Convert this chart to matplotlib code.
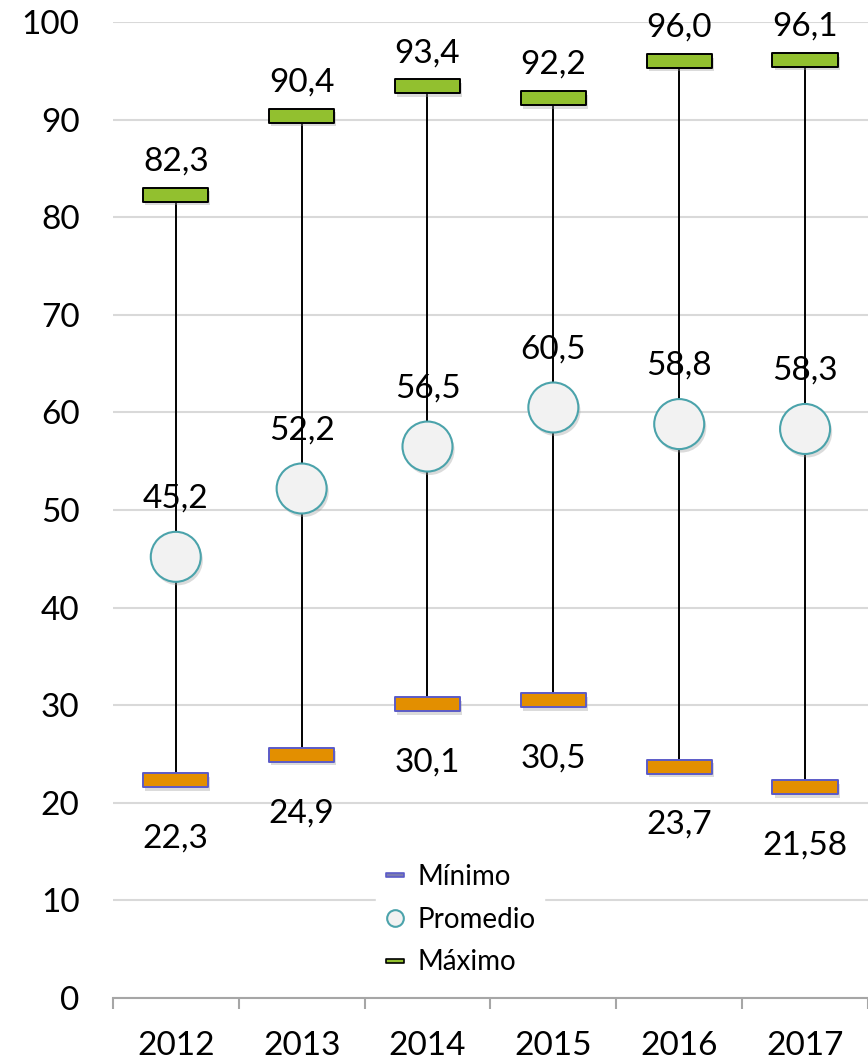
import matplotlib
matplotlib.use("Agg")
import matplotlib.pyplot as plt
import matplotlib.patheffects as pe
from matplotlib.path import Path
from matplotlib.lines import Line2D
import numpy as np

plt.rcParams['font.family'] = ['Lato', 'DejaVu Sans']

# data
years = ["2012", "2013", "2014", "2015", "2016", "2017"]
minimo = [22.3, 24.9, 30.1, 30.5, 23.7, 21.58]
promedio = [45.2, 52.2, 56.5, 60.5, 58.8, 58.3]
maximo = [82.3, 90.4, 93.4, 92.2, 96.0, 96.1]
min_labels = ["22,3", "24,9", "30,1", "30,5", "23,7", "21,58"]
avg_labels = ["45,2", "52,2", "56,5", "60,5", "58,8", "58,3"]
max_labels = ["82,3", "90,4", "93,4", "92,2", "96,0", "96,1"]

# flat rectangle marker for min / max
h = 0.212
rect = Path([(-1, -h), (1, -h), (1, h), (-1, h), (-1, -h)],
            [Path.MOVETO, Path.LINETO, Path.LINETO, Path.LINETO, Path.CLOSEPOLY])

fig = plt.figure(figsize=(8.68, 10.63), dpi=100)
ax = fig.add_axes([0.130, 0.0612, 0.870, 0.9181])

x = np.arange(len(years))
shadow = [pe.SimplePatchShadow(offset=(1.5, -2.5), shadow_rgbFace='#999999', alpha=0.35), pe.Normal()]

ax.vlines(x, minimo, maximo, color='black', lw=1.4, zorder=2)
ax.plot(x, maximo, ls='none', marker=rect, ms=47, mfc='#92C02F', mec='black', mew=1.4,
        zorder=3, path_effects=shadow)
ax.plot(x, minimo, ls='none', marker=rect, ms=47, mfc='#E38F00', mec='#5B5BC8', mew=1.4,
        zorder=3, path_effects=shadow)
ax.plot(x, promedio, ls='none', marker='o', ms=36, mfc='#F2F2F2', mec='#4BA3AB', mew=1.5,
        zorder=4, path_effects=shadow)

for i in range(len(years)):
    ax.annotate(max_labels[i], (x[i], maximo[i]), xytext=(0, 24), textcoords='offset points',
                ha='center', va='center', fontsize=24, zorder=5)
    ax.annotate(min_labels[i], (x[i], minimo[i]), xytext=(0, -42), textcoords='offset points',
                ha='center', va='center', fontsize=24, zorder=5)
    ax.annotate(avg_labels[i], (x[i], promedio[i]), xytext=(0, 42), textcoords='offset points',
                ha='center', va='center', fontsize=24, zorder=5)

ax.set_xlim(-0.5, len(years) - 0.5)
ax.set_ylim(0, 100)
ax.set_yticks(np.arange(0, 101, 10))
ax.set_xticks(x)
ax.set_xticklabels(years)
ax.set_xticks(np.arange(-0.5, len(years), 1), minor=True)
ax.tick_params(axis='y', length=0, labelsize=24, pad=24)
ax.tick_params(axis='x', which='major', length=0, labelsize=24, pad=24)
ax.tick_params(axis='x', which='minor', length=8, width=1.5, color='#A6A6A6')
ax.grid(axis='y', color='#D9D9D9', lw=1.5, zorder=0)
ax.set_axisbelow(True)
for s in ['left', 'right', 'top']:
    ax.spines[s].set_visible(False)
ax.spines['bottom'].set_color('#A6A6A6')
ax.spines['bottom'].set_linewidth(1.5)

handles = [
    Line2D([], [], ls='none', marker=rect, ms=13, mfc='#7B7BB0', mec='#5B5BC8', mew=1.2),
    Line2D([], [], ls='none', marker='o', ms=12, mfc='#F2F2F2', mec='#4BA3AB', mew=1.5),
    Line2D([], [], ls='none', marker=rect, ms=13, mfc='#92C02F', mec='black', mew=1.2),
]
leg = ax.legend(handles, ["Mínimo", "Promedio", "Máximo"], loc='upper left',
                bbox_to_anchor=(0.33, 0.16), fontsize=20, frameon=True, fancybox=False,
                edgecolor='white', framealpha=1, handlelength=0.8, handletextpad=0.4,
                labelspacing=0.6, borderpad=0.3)

fig.savefig("out.png", dpi=100)
